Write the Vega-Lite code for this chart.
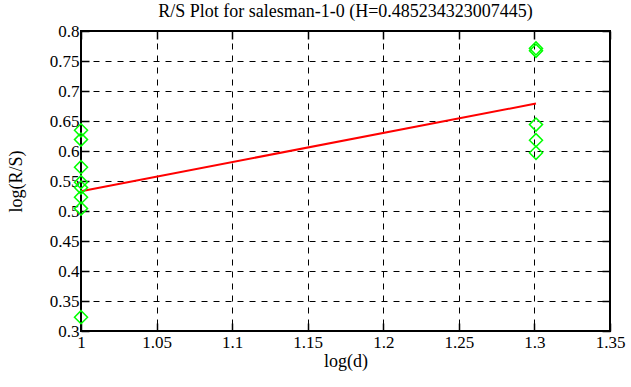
{
  "$schema": "https://vega.github.io/schema/vega-lite/v6.json",
  "width": 529,
  "height": 300,
  "autosize": "none",
  "padding": {"left": 81, "top": 31, "right": 21, "bottom": 56},
  "background": "white",
  "config": {
    "font": "Liberation Serif",
    "view": {"stroke": "black", "strokeWidth": 2},
    "style": {
      "guide-label": {"font": "serif", "fontSize": 17, "fill": "black"},
      "guide-title": {"font": "Liberation Serif", "fontSize": 18, "fill": "black"}
    }
  },
  "title": {
    "text": "R/S Plot for salesman-1-0 (H=0.485234323007445)",
    "font": "Liberation Serif",
    "fontSize": 18,
    "fontWeight": "normal",
    "color": "black",
    "offset": 1
  },
  "datasets": {
    "points": [
      {"logd": 1.0, "logrs": 0.6345},
      {"logd": 1.0, "logrs": 0.619},
      {"logd": 1.0, "logrs": 0.573},
      {"logd": 1.0, "logrs": 0.548},
      {"logd": 1.0, "logrs": 0.539},
      {"logd": 1.0, "logrs": 0.523},
      {"logd": 1.0, "logrs": 0.504},
      {"logd": 1.0, "logrs": 0.323},
      {"logd": 1.30103, "logrs": 0.771},
      {"logd": 1.30103, "logrs": 0.767},
      {"logd": 1.30103, "logrs": 0.644},
      {"logd": 1.30103, "logrs": 0.618},
      {"logd": 1.30103, "logrs": 0.597}
    ],
    "fit": [
      {"logd": 1.0, "logrs": 0.533},
      {"logd": 1.30103, "logrs": 0.679}
    ]
  },
  "resolve": {"axis": {"x": "independent", "y": "independent"}},
  "layer": [
    {
      "encoding": {
        "x": {
          "field": "logd", "type": "quantitative",
          "scale": {"domain": [1, 1.35], "nice": false, "zero": false},
          "axis": {
            "title": "log(d)",
            "values": [1, 1.05, 1.1, 1.15, 1.2, 1.25, 1.3, 1.35],
            "format": ".2~f",
            "labelFont": "serif", "labelFontSize": 17, "labelColor": "black",
            "labelOverlap": false, "labelBound": false, "labelFlush": false,
            "labelPadding": 11,
            "titleFont": "Liberation Serif", "titleFontSize": 18, "titleFontWeight": "normal", "titleColor": "black",
            "titlePadding": 2,
            "grid": true, "gridColor": "black", "gridDash": [6, 6], "gridOpacity": 1, "gridWidth": 1,
            "domain": false, "ticks": true, "tickColor": "black", "tickSize": -8, "tickWidth": 1.5
          }
        },
        "y": {
          "field": "logrs", "type": "quantitative",
          "scale": {"domain": [0.3, 0.8], "nice": false, "zero": false},
          "axis": {
            "title": "log(R/S)",
            "values": [0.3, 0.35, 0.4, 0.45, 0.5, 0.55, 0.6, 0.65, 0.7, 0.75, 0.8],
            "format": ".2~f",
            "labelFont": "serif", "labelFontSize": 17, "labelColor": "black",
            "labelOverlap": false, "labelBound": false, "labelFlush": false,
            "labelPadding": 10,
            "titleFont": "Liberation Serif", "titleFontSize": 18, "titleFontWeight": "normal", "titleColor": "black",
            "titlePadding": 24,
            "grid": true, "gridColor": "black", "gridDash": [6, 6], "gridOpacity": 1, "gridWidth": 1,
            "domain": false, "ticks": true, "tickColor": "black", "tickSize": -8, "tickWidth": 1.5
          }
        }
      },
      "layer": [
        {
          "data": {"name": "fit"},
          "mark": {"type": "line", "color": "#ff0000", "strokeWidth": 2}
        },
        {
          "data": {"name": "points"},
          "mark": {"type": "point", "shape": "diamond", "size": 170, "stroke": "#00ff00", "strokeWidth": 1.5, "filled": false, "opacity": 1}
        }
      ]
    },
    {
      "data": {"name": "fit"},
      "mark": {"type": "point", "opacity": 0},
      "encoding": {
        "x": {
          "field": "logd", "type": "quantitative",
          "axis": {
            "orient": "top", "title": null, "labels": false,
            "values": [1, 1.05, 1.1, 1.15, 1.2, 1.25, 1.3, 1.35],
            "grid": false, "domain": false, "ticks": true, "tickColor": "black", "tickSize": -8, "tickWidth": 1.5
          }
        },
        "y": {
          "field": "logrs", "type": "quantitative",
          "axis": {
            "orient": "right", "title": null, "labels": false,
            "values": [0.3, 0.35, 0.4, 0.45, 0.5, 0.55, 0.6, 0.65, 0.7, 0.75, 0.8],
            "grid": false, "domain": false, "ticks": true, "tickColor": "black", "tickSize": -8, "tickWidth": 1.5
          }
        }
      }
    }
  ]
}
